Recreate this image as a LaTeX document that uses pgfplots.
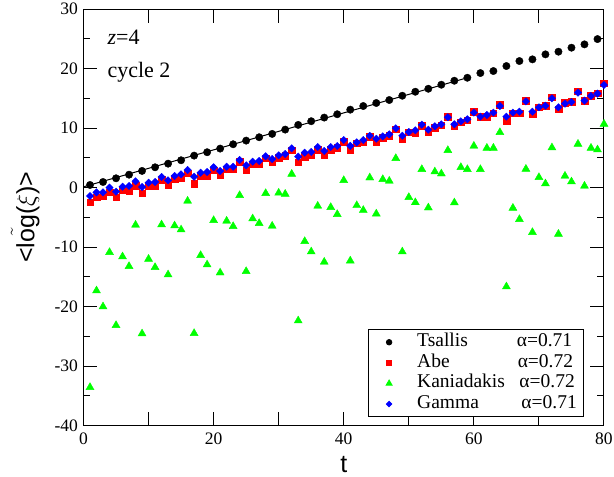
\documentclass[border=0pt]{standalone}
\usepackage{fontspec}
\setmainfont{Liberation Serif}
\newfontfamily\labelfont{Liberation Sans}
\usepackage{pgfplots}
\pgfplotsset{compat=1.18}
\usepackage{pgfplotstable}

\definecolor{kgreen}{RGB}{0,255,0}

% legend cell: mark 20.7pt from the box edge, text 28pt after the mark
\pgfplotsset{
  markleg/.style={legend image code/.code={
    \fill[opacity=0] (-20.7pt,-2pt) rectangle (27.7pt,2pt);
    \draw[##1,/tikz/every mark/.append style={scale=0.75}] plot coordinates {(0pt,0pt)};}},
}

% Tsallis, odd t only
\pgfplotstableread{
t v
1 0.44
3 0.94
5 1.56
7 2.17
9 2.80
11 3.41
13 4.02
15 4.59
17 5.37
19 5.94
21 6.55
23 7.28
25 7.89
27 8.46
29 9.02
31 9.74
33 10.53
35 11.15
37 11.76
39 12.32
41 13.09
43 13.70
45 14.21
47 14.71
49 15.43
51 16.10
53 16.60
55 17.28
57 17.95
59 18.45
61 19.24
63 19.58
65 20.42
67 21.26
69 21.54
71 22.38
73 22.83
75 23.50
77 24.06
79 24.95
}\tsallis

% t  Abe  Kaniadakis  Gamma
\pgfplotstableread{
t abe kan gam
1 -2.47 -33.55 -1.41
2 -1.63 -17.32 -0.80
3 -1.47 -20.00 -0.80
4 -0.80 -10.87 0.00
5 -1.63 -23.14 -0.69
6 -0.40 -11.60 0.15
7 -0.50 -13.22 0.27
8 0.32 -6.28 1.05
9 -0.96 -24.54 0.10
10 0.27 -12.00 0.82
11 0.27 -13.39 0.94
12 1.28 -6.23 1.78
13 0.49 -14.63 1.22
14 1.50 -6.40 1.95
15 1.67 -7.07 2.23
16 2.40 -2.25 2.95
17 0.66 -24.48 1.83
18 1.95 -11.38 2.50
19 1.95 -12.95 2.62
20 2.95 -5.50 3.41
21 2.20 -14.30 2.79
22 3.12 -5.61 3.51
23 3.12 -6.51 3.51
24 4.35 -1.30 4.63
25 2.95 -14.07 3.74
26 3.90 -5.22 4.35
27 4.02 -6.00 4.47
28 4.92 -0.96 5.26
29 4.24 -6.45 4.80
30 5.03 -0.90 5.42
31 5.36 -1.08 5.64
32 6.26 2.28 6.60
33 4.24 -22.36 5.20
34 5.20 -9.03 5.86
35 5.47 -10.77 5.98
36 6.37 -3.09 6.82
37 5.47 -12.50 6.15
38 6.37 -3.31 6.82
39 6.71 -4.49 6.99
40 7.71 1.22 7.99
41 6.31 -12.30 7.00
42 7.43 -3.00 7.60
43 7.60 -3.80 7.99
44 8.50 1.66 8.71
45 7.71 -4.40 8.21
46 8.38 1.39 8.60
47 8.71 1.11 8.94
48 9.84 4.92 9.96
49 8.16 -10.77 8.71
50 9.28 -1.63 9.34
51 9.11 -2.50 9.62
52 10.40 3.07 10.57
53 9.39 -3.38 9.73
54 10.06 2.67 10.30
55 10.50 2.33 10.63
56 11.92 6.26 11.81
57 10.30 -2.53 10.63
58 10.97 3.41 11.13
59 11.30 3.07 11.47
60 12.75 6.99 12.59
61 11.90 3.07 11.92
62 11.92 6.65 12.19
63 12.47 6.65 12.59
64 13.93 9.28 13.70
65 11.24 -16.64 11.92
66 12.47 -3.43 12.59
67 12.47 -5.33 12.75
68 14.60 3.12 14.49
69 12.36 -7.51 12.75
70 13.49 1.72 13.49
71 13.76 0.66 13.76
72 15.16 6.71 15.00
73 13.15 -7.80 13.49
74 14.21 1.95 14.10
75 14.38 0.99 14.38
76 16.17 7.32 15.95
77 14.60 0.27 14.60
78 15.39 6.65 15.39
79 15.84 6.37 15.78
80 17.51 10.68 17.23
}\others

\begin{document}
\begin{tikzpicture}
\begin{axis}[
  scale only axis, width=520.5pt, height=416.7pt,
  xmin=0, xmax=80, ymin=-40, ymax=30,
  xtick={0,10,...,80}, xticklabels={0,,20,,40,,60,,80},
  ytick={-40,-30,...,30}, minor ytick={-35,-25,...,25},
  major tick length=14pt, minor tick length=7pt,
  tick style={line width=1pt, black},
  axis line style={line width=1pt},
  /pgf/number format/assume math mode=true,
  ticklabel style={font=\rmfamily\fontsize{17.5}{20}\selectfont},
  xticklabel style={yshift=-3.5pt},
  yticklabel style={xshift=-2pt},
  xlabel={t},
  xlabel style={font=\labelfont\fontsize{25}{30}\selectfont,
    at={(axis description cs:0.5,-0.113)}, anchor=base},
  ylabel={<$\tilde{\hbox{log}}$($\xi$)>},
  ylabel style={font=\labelfont\fontsize{25}{30}\selectfont,
    at={(axis description cs:-0.112,0.5)}, anchor=center},
  legend style={at={(axis description cs:0.962,0.021)}, anchor=south east,
    draw=black, line width=0.8pt, font=\rmfamily\fontsize{19.5}{22}\selectfont,
    inner xsep=0pt, inner ysep=4pt, row sep=3.6pt,
    nodes={inner sep=0pt, text height=13pt, text depth=4pt},
    /tikz/every odd column/.append style={column sep=0pt}},
  legend cell align=left,
]
\addplot[black, line width=1pt, forget plot] coordinates {(0,0.13) (59,18.45)};
\addplot[only marks, mark=*, mark size=3.7pt, black, markleg] table[x=t, y=v] {\tsallis};
\addlegendentry{\makebox[166.6pt][l]{Tsallis\hfill α=0.71\hspace{11.7pt}}}
\addplot[only marks, mark=square*, mark size=3.3pt, red, markleg] table[x=t, y=abe] {\others};
\addlegendentry{\makebox[166.6pt][l]{Abe\hfill α=0.72\hspace{10.7pt}}}
\addplot[only marks, mark=triangle*, mark size=4.6pt, kgreen, markleg] table[x=t, y=kan] {\others};
\addlegendentry{\makebox[166.6pt][l]{Kaniadakis\hfill α=0.72\hspace{9pt}}}
\addplot[only marks, mark=square*, mark options={rotate=45}, mark size=2.6pt, blue, markleg] table[x=t, y=gam] {\others};
\addlegendentry{\makebox[166.6pt][l]{Gamma\hfill α=0.71\hspace{7pt}}}
\node[anchor=base west, font=\rmfamily\fontsize{22}{26}\selectfont] at (rel axis cs:0.0394,0.916) {\textit{z}=4};
\node[anchor=base west, font=\rmfamily\fontsize{22}{26}\selectfont] at (rel axis cs:0.0394,0.836) {cycle 2};
\end{axis}
\pgfresetboundingbox
\path[use as bounding box] (-83.5pt,-51.3pt) rectangle (530.5pt,425.7pt);
\end{tikzpicture}
\end{document}
